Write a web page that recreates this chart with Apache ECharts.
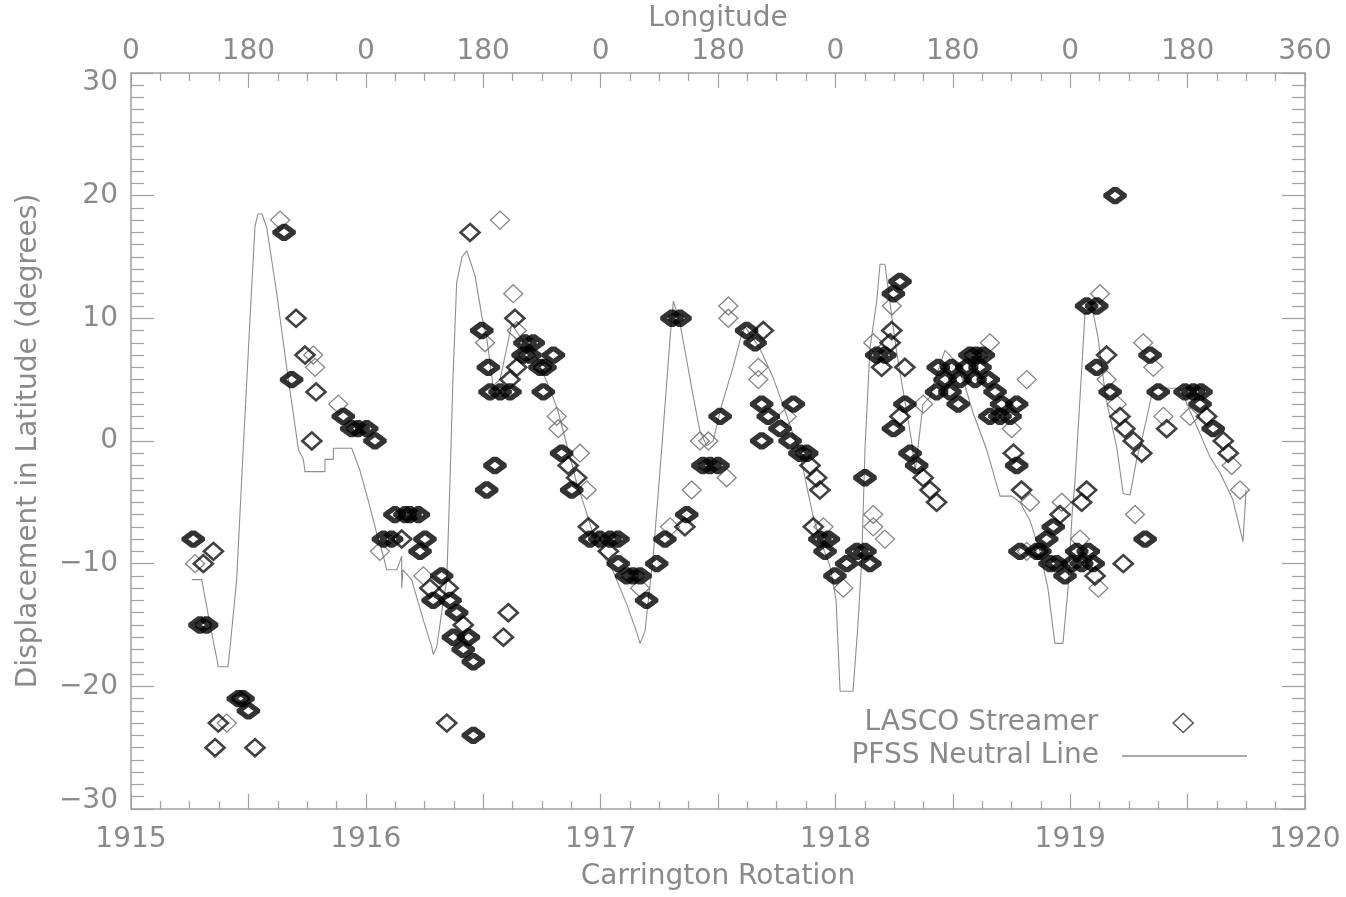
<!DOCTYPE html>
<html><head><meta charset="utf-8">
<script src="https://cdn.jsdelivr.net/npm/echarts@6/dist/echarts.min.js"></script>
<style>html,body{margin:0;padding:0;background:#fff}#chart{width:1346px;height:897px}</style>
</head><body><div id="chart"></div>
<script>
// Top-axis tick labels (longitude, every half rotation)
const longitudeLabels = ['0','180','0','180','0','180','0','180','0','180','360'];

// PFSS neutral line: [Carrington rotation, latitude displacement]
const pfssNeutralLine = [[1915.259,-11.3],[1915.301,-11.3],[1915.336,-14.9],[1915.372,-18.4],[1915.413,-18.4],[1915.422,-16.8],[1915.450,-11.3],[1915.477,-1],[1915.507,10],[1915.528,17.5],[1915.541,18.5],[1915.558,18.5],[1915.578,17.4],[1915.621,12],[1915.663,6],[1915.713,-0.7],[1915.734,-1.5],[1915.741,-2.5],[1915.826,-2.5],[1915.826,-1.5],[1915.862,-1.5],[1915.862,-0.6],[1915.940,-0.6],[1915.975,-2.4],[1916.018,-5.4],[1916.046,-7.5],[1916.075,-9.4],[1916.089,-10.5],[1916.132,-10.5],[1916.153,-9.4],[1916.153,-12],[1916.158,-10.5],[1916.195,-11.3],[1916.245,-14.6],[1916.281,-16.8],[1916.287,-17.4],[1916.302,-16.8],[1916.323,-14],[1916.345,-11.3],[1916.359,-3],[1916.371,5],[1916.387,12.9],[1916.410,15],[1916.430,15.5],[1916.465,13.5],[1916.494,10.2],[1916.515,8.4],[1916.542,4.5],[1916.572,5],[1916.621,9.5],[1916.657,8.5],[1916.721,7],[1916.785,4.2],[1916.819,2.4],[1916.898,-3.4],[1916.934,-5.5],[1916.983,-8.5],[1917.053,-10.6],[1917.111,-13.3],[1917.154,-15.6],[1917.168,-16.5],[1917.189,-15.5],[1917.224,-9.4],[1917.260,-0.7],[1917.296,8.4],[1917.310,11.4],[1917.338,9.6],[1917.395,3.6],[1917.423,0.8],[1917.452,-0.4],[1917.479,0],[1917.517,3],[1917.564,6],[1917.598,8.5],[1917.615,9.3],[1917.645,8.5],[1917.679,7.5],[1917.734,5.2],[1917.785,2.5],[1917.819,0.6],[1917.849,-1],[1917.878,-3.7],[1917.906,-6.2],[1917.934,-8],[1917.977,-10.2],[1918.003,-13],[1918.020,-20.4],[1918.075,-20.4],[1918.096,-15],[1918.112,-9.7],[1918.126,-0.7],[1918.147,7.5],[1918.176,11.4],[1918.190,14.4],[1918.211,14.4],[1918.240,10.2],[1918.261,7.2],[1918.282,4.8],[1918.304,2.4],[1918.325,-0.1],[1918.340,-2.5],[1918.373,3],[1918.403,3.6],[1918.433,5.5],[1918.467,7.4],[1918.509,6.5],[1918.552,4.5],[1918.586,2.3],[1918.644,-0.7],[1918.701,-4.5],[1918.752,-4.5],[1918.786,-5],[1918.829,-6.5],[1918.871,-9],[1918.905,-12],[1918.935,-16.5],[1918.969,-16.5],[1918.991,-12],[1919.008,-6],[1919.020,-3.4],[1919.042,3.6],[1919.063,10.4],[1919.097,10.5],[1919.118,8.5],[1919.152,3.5],[1919.198,-0.5],[1919.226,-4.3],[1919.255,-4.4],[1919.283,-1.5],[1919.311,0.6],[1919.340,3.1],[1919.353,4.3],[1919.468,4.3],[1919.539,1.2],[1919.595,-1.3],[1919.638,-2.6],[1919.693,-4.8],[1919.736,-8.2],[1919.749,-4]];

// LASCO streamer positions, grouped by how heavily they are drawn
const streamerBold = [[1915.265,-8],[1915.294,-15],[1915.322,-15],[1915.457,-21],[1915.477,-21],[1915.500,-22],[1915.652,17],[1915.684,5],[1915.904,2],[1915.940,1],[1915.967,1],[1916.004,1],[1916.039,0],
[1916.124,-6],[1916.167,-6],[1916.188,-6],[1916.224,-6],[1916.075,-8],[1916.110,-8],[1916.252,-8],[1916.231,-9],[1916.323,-11],[1916.287,-13],[1916.359,-13],[1916.387,-14],[1916.373,-16],[1916.437,-16],[1916.415,-17],[1916.458,-18],[1916.458,-24],
[1916.494,9],[1916.522,6],[1916.529,4],[1916.572,4],[1916.614,4],[1916.550,-2],[1916.515,-4],[1916.678,8],[1916.713,8],[1916.670,7],[1916.799,7],[1916.742,6],[1916.756,4],[1916.699,7],[1916.763,6],[1916.834,-1],[1916.877,-4],[1916.955,-8],[1916.997,-8],[1917.040,-8],[1917.074,-8],[1917.075,-10],[1917.111,-11],[1917.168,-11],[1917.196,-13],[1917.239,-10],[1917.274,-8],[1917.367,-6],[1917.138,-11],
[1917.304,10],[1917.338,10],[1917.436,-2],[1917.466,-2],[1917.500,-2],[1917.509,2],[1917.622,9],[1917.658,8],[1917.686,3],[1917.821,3],[1917.714,2],[1917.764,1],[1917.686,0],[1917.807,0],[1917.849,-1],[1917.878,-1],[1917.934,-8],[1917.970,-8],[1917.956,-9],[1917.998,-11],[1918.048,-10],[1918.091,-9],[1918.126,-9],[1918.147,-10],[1918.126,-3],
[1918.275,13],[1918.247,12],[1918.176,7],[1918.211,7],[1918.296,3],[1918.247,1],[1918.318,-1],[1918.346,-2],[1918.438,6],[1918.495,6],[1918.559,6],[1918.616,6],[1918.467,5],[1918.531,5],[1918.595,5],[1918.431,4],[1918.488,4],[1918.523,3],[1918.573,7],[1918.630,7],[1918.599,7],[1918.651,5],[1918.680,4],[1918.708,3],[1918.772,3],[1918.658,2],[1918.701,2],[1918.744,2],[1918.772,-2],[1918.857,-9],[1918.871,-9],[1918.900,-8],[1918.928,-7],[1918.942,-10],[1918.978,-11],[1919.028,-9],[1919.077,-9],[1919.098,-10],[1919.049,-10],[1919.319,-8],[1918.914,-10],[1919.008,-10],[1918.786,-9],
[1919.191,20],[1919.113,11],[1919.070,11],[1919.113,6],[1919.170,4],[1919.340,7],[1919.375,4],[1919.489,4],[1919.524,4],[1919.557,4],[1919.553,3],[1919.609,1]];

const streamerMid = [[1915.351,-9],[1915.308,-10],[1915.372,-23],[1915.358,-25],[1915.528,-25],[1915.703,10],[1915.741,7],[1915.788,4],[1915.770,0],
[1916.153,-8],[1916.273,-12],[1916.351,-12],[1916.415,-15],[1916.345,-23],[1916.607,-14],[1916.586,-16],
[1916.444,17],[1916.635,10],[1916.643,6],[1916.614,5],[1916.862,-2],[1916.898,-3],[1916.948,-7],[1917.033,-9],[1917.359,-7],
[1917.693,9],[1917.892,-2],[1917.920,-3],[1917.934,-4],[1917.906,-7],
[1918.240,9],[1918.233,8],[1918.197,6],[1918.296,6],[1918.275,2],[1918.374,-3],[1918.403,-4],[1918.431,-5],[1918.758,-1],[1918.793,-4],[1918.957,-6],[1919.049,-5],[1919.070,-4],[1919.106,-11],[1919.226,-10],
[1919.155,7],[1919.212,2],[1919.233,1],[1919.269,0],[1919.305,-1],[1919.411,1],[1919.581,2],[1919.652,0],[1919.673,-1]];

const streamerLight = [[1915.273,-10],[1915.408,-23],[1915.635,18],[1915.776,7],[1915.784,6],[1915.883,3],
[1916.060,-9],[1916.245,-11],
[1916.572,18],[1916.508,8],[1916.628,12],[1916.643,9],[1916.813,2],[1916.820,1],[1916.912,-1],[1916.941,-4],[1917.168,-12],[1917.296,-7],[1917.388,-4],
[1917.423,0],[1917.459,0],[1917.537,-3],[1917.544,11],[1917.544,10],[1917.672,6],[1917.672,5],[1917.793,2],[1917.949,-7],[1918.034,-12],[1918.161,-6],[1918.161,-7],[1918.211,-8],
[1918.240,11],[1918.161,8],[1918.374,3],[1918.658,8],[1918.815,5],[1918.751,1],[1918.829,-5],[1918.815,-9],[1918.964,-5],[1919.042,-8],[1919.120,-12],[1919.276,-6],
[1919.127,12],[1919.155,5],[1919.198,3],[1919.311,8],[1919.354,6],[1919.397,2],[1919.510,2],[1919.688,-2],[1919.723,-4]];

const FONT = 'DejaVu Sans';
const FS = 28;
const TXT = '#8a8a8a';
const AX = '#a0a0a0';
const LINE = '#8e8e8e';

const chart = echarts.init(document.getElementById('chart'), null, {renderer: 'canvas'});

const baseX = {
  type: 'value', min: 1915, max: 1920, interval: 0.5,
  axisLine: {show: true, onZero: false, lineStyle: {color: AX, width: 1.5}},
  axisTick: {show: true, inside: true, length: 15, lineStyle: {color: AX, width: 1.2}},
  minorTick: {show: true, splitNumber: 4, length: 8, lineStyle: {color: AX, width: 1.2}},
  splitLine: {show: false}, minorSplitLine: {show: false},
  nameTextStyle: {fontFamily: FONT, fontSize: FS, color: TXT},
  nameLocation: 'middle'
};
const baseY = {
  type: 'value', min: -30, max: 30, interval: 10,
  axisLine: {show: true, onZero: false, lineStyle: {color: AX, width: 1.5}},
  axisTick: {show: true, inside: true, length: 23, lineStyle: {color: AX, width: 1.2}},
  minorTick: {show: true, splitNumber: 10, length: 13, lineStyle: {color: AX, width: 1.2}},
  splitLine: {show: false}, minorSplitLine: {show: false},
  nameTextStyle: {fontFamily: FONT, fontSize: FS, color: TXT},
  nameLocation: 'middle'
};

const hollow = 'rgba(0,0,0,0)';
const legendText = {fontFamily: FONT, fontSize: FS, color: TXT, lineHeight: 26};

function yLabel(v) {
  const s = v < 0 ? '\u2212' + Math.abs(v) : String(v);
  if (v === 30) return '{hi|' + s + '}';
  if (v === -30) return '{lo|' + s + '}';
  return s;
}

chart.setOption({
  animation: false,
  backgroundColor: '#ffffff',
  grid: {left: 131, right: 41, top: 72, bottom: 88},
  xAxis: [
    Object.assign({}, baseX, {
      position: 'bottom', name: 'Carrington Rotation', nameGap: 54,
      axisLabel: {margin: 17, fontFamily: FONT, fontSize: FS, color: TXT,
        formatter: v => (Math.abs(v - Math.round(v)) < 1e-6 ? String(Math.round(v)) : '')}
    }),
    Object.assign({}, baseX, {
      position: 'top', name: 'Longitude', nameGap: 38,
      axisLabel: {margin: 7, fontFamily: FONT, fontSize: FS, color: TXT,
        formatter: v => longitudeLabels[Math.round((v - 1915) / 0.5)] || ''}
    })
  ],
  yAxis: [
    Object.assign({}, baseY, {
      position: 'left', name: 'Displacement in Latitude (degrees)', nameGap: 88,
      axisLabel: {margin: 13, fontFamily: FONT, fontSize: FS, color: TXT,
        formatter: yLabel,
        rich: {
          hi: {fontFamily: FONT, fontSize: FS, color: TXT, padding: [20, 0, 0, 0]},
          lo: {fontFamily: FONT, fontSize: FS, color: TXT, padding: [0, 0, 16, 0]}
        }}
    }),
    Object.assign({}, baseY, {
      position: 'right', axisLabel: {show: false}
    })
  ],
  legend: [
    {
      orient: 'vertical', right: 147, top: 704, align: 'right',
      itemWidth: 20, itemHeight: 19, selectedMode: false,
      textStyle: Object.assign({padding: [0, 70, 0, 0]}, legendText),
      data: [{name: 'LASCO Streamer', icon: 'diamond',
        itemStyle: {color: hollow, borderColor: '#333333', borderWidth: 1.6}}]
    },
    {
      orient: 'vertical', right: 94, top: 737, align: 'right',
      itemWidth: 125, itemHeight: 1.4, selectedMode: false,
      textStyle: Object.assign({padding: [0, 18, 0, 0]}, legendText),
      data: [{name: 'PFSS Neutral Line', icon: 'rect',
        itemStyle: {color: LINE, borderWidth: 0}}]
    }
  ],
  series: [
    {
      name: 'LASCO Streamer', type: 'scatter', data: streamerMid, z: 4,
      symbol: 'diamond', symbolSize: [19, 17],
      itemStyle: {color: hollow, borderColor: '#111111', borderWidth: 2.6}
    },
    {
      name: 'PFSS Neutral Line', type: 'line', data: pfssNeutralLine, z: 2,
      symbol: 'none', smooth: false,
      itemStyle: {color: LINE},
      lineStyle: {color: LINE, width: 1.1}
    },
    {
      name: 'LASCO Streamer', type: 'scatter', data: streamerLight, z: 3,
      symbol: 'diamond', symbolSize: [19, 18],
      itemStyle: {color: hollow, borderColor: '#666666', borderWidth: 1.3}
    },
    {
      name: 'LASCO Streamer', type: 'scatter', data: streamerBold, z: 5,
      symbol: 'diamond', symbolSize: [19, 14],
      itemStyle: {color: hollow, borderColor: '#000000', borderWidth: 5.5, borderJoin: 'bevel'}
    }
  ]
});
</script>
</body></html>
